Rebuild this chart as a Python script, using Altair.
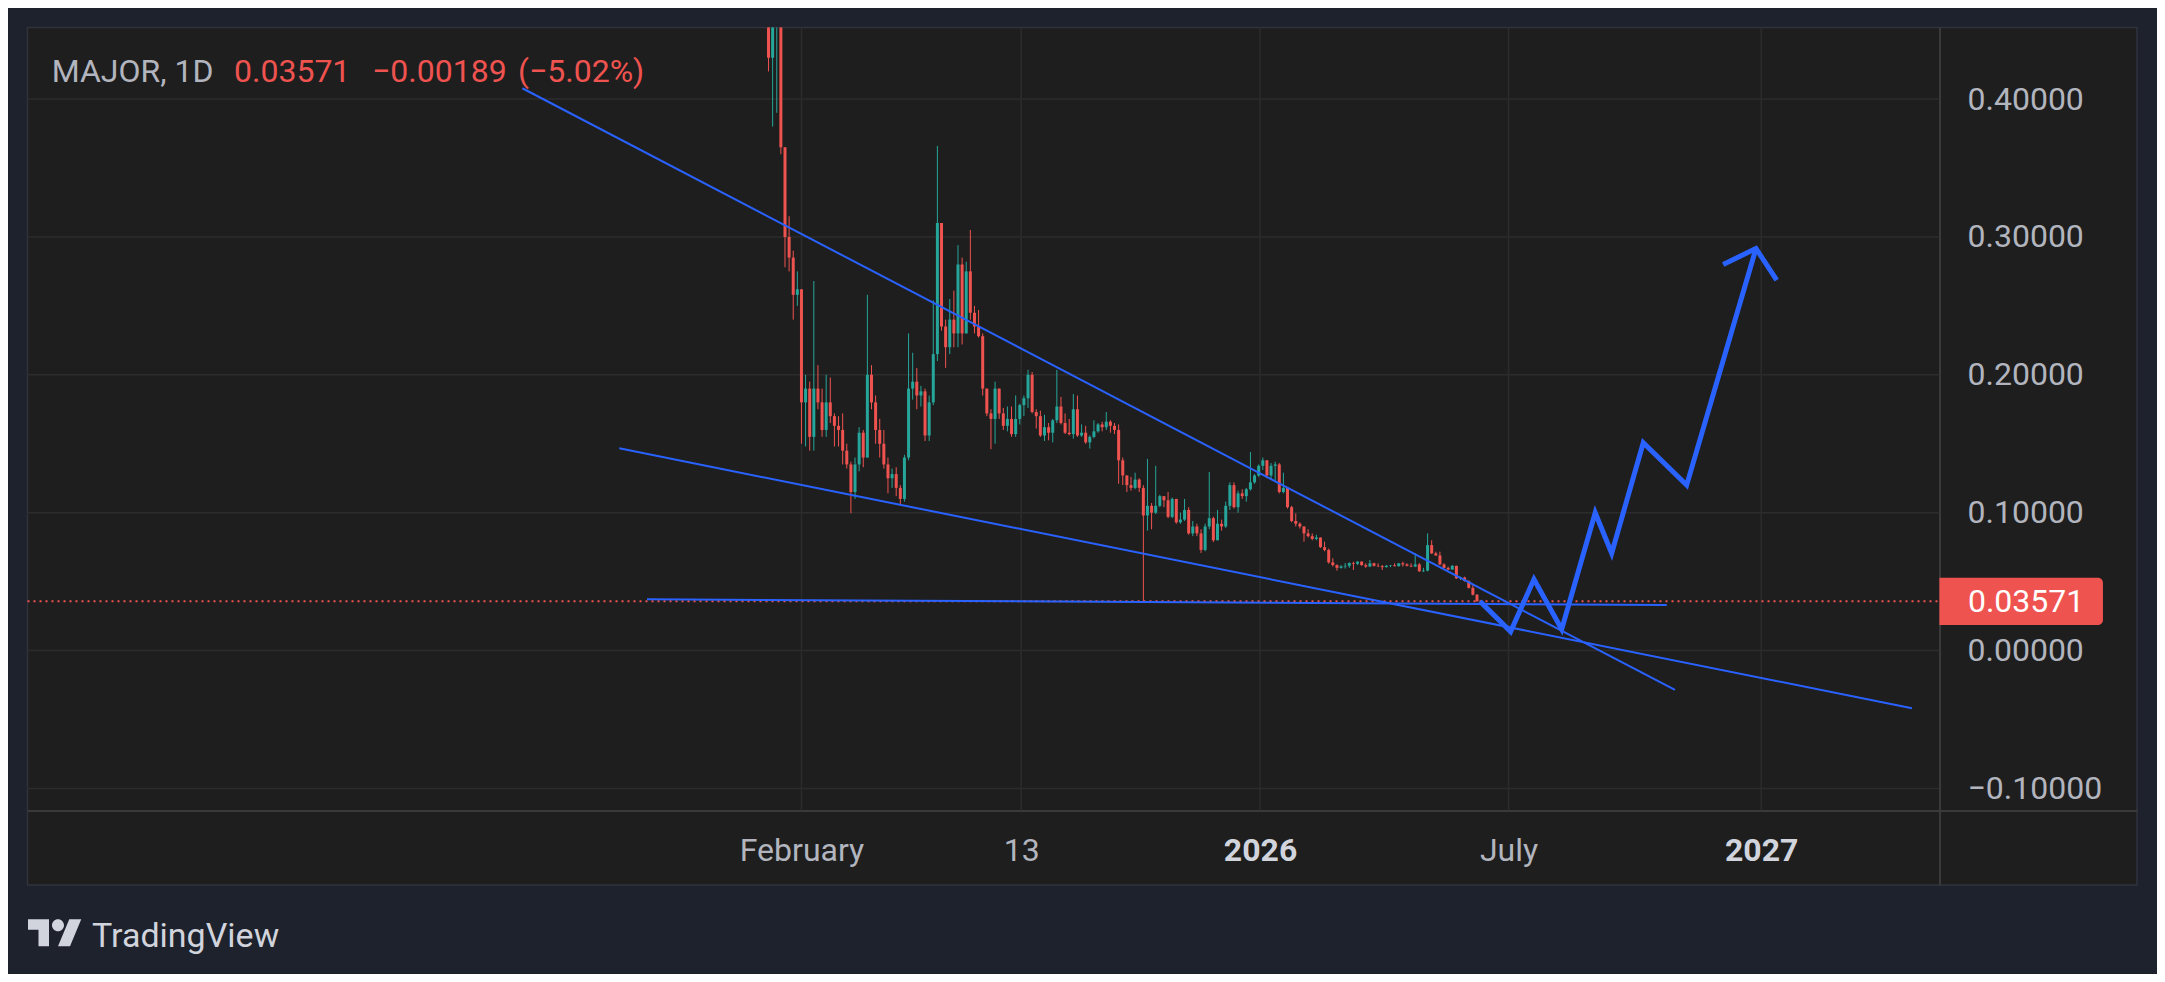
import altair as alt
import numpy as np
import pandas as pd

# ---------------- data ----------------
# day offsets from 1 Feb 2025; one candle per 3 days
CANDLE_DAY = list(range(-24, 493, 3))
FIRST_OPEN = 0.53
CLOSE = [
    0.43, 0.50, 0.52, 0.365, 0.30, 0.285, 0.258, 0.262, 0.18, 0.19,
    0.155, 0.19, 0.18, 0.16, 0.18, 0.17, 0.163, 0.16, 0.145, 0.135,
    0.115, 0.135, 0.158, 0.14, 0.20, 0.18, 0.16, 0.15, 0.135, 0.125,
    0.128, 0.118, 0.11, 0.14, 0.19, 0.195, 0.185, 0.188, 0.156, 0.18,
    0.215, 0.31, 0.235, 0.22, 0.24, 0.23, 0.28, 0.23, 0.275, 0.245,
    0.235, 0.228, 0.19, 0.172, 0.168, 0.19, 0.172, 0.163, 0.168, 0.157,
    0.168, 0.178, 0.183, 0.20, 0.173, 0.17, 0.156, 0.162, 0.158, 0.167,
    0.177, 0.165, 0.158, 0.157, 0.175, 0.156, 0.158, 0.151, 0.155, 0.159,
    0.164, 0.162, 0.166, 0.163, 0.16, 0.138, 0.127, 0.12, 0.118, 0.124,
    0.118, 0.098, 0.105, 0.10, 0.105, 0.112, 0.109, 0.097, 0.11, 0.093,
    0.095, 0.102, 0.085, 0.09, 0.085, 0.073, 0.09, 0.096, 0.08, 0.092,
    0.09, 0.105, 0.12, 0.104, 0.114, 0.112, 0.117, 0.122, 0.127, 0.134,
    0.138, 0.127, 0.134, 0.135, 0.115, 0.118, 0.104, 0.094, 0.092, 0.09,
    0.085, 0.083, 0.081, 0.082, 0.075, 0.073, 0.064, 0.062, 0.06, 0.061,
    0.0615, 0.0635, 0.063, 0.0645, 0.062, 0.061, 0.0633, 0.0615, 0.0612, 0.0605,
    0.0615, 0.0618, 0.0612, 0.0633, 0.0625, 0.0615, 0.061, 0.0625, 0.0575, 0.058,
    0.0765, 0.0705, 0.069, 0.0625, 0.06, 0.0588, 0.0615, 0.0524, 0.053, 0.0505,
    0.0455, 0.0405, 0.03571,
]
HIGH = [
    0.58, 0.56, 0.60, 0.55, 0.365, 0.315, 0.29, 0.275, 0.262, 0.20,
    0.195, 0.268, 0.207, 0.19, 0.20, 0.198, 0.172, 0.17, 0.172, 0.15,
    0.137, 0.14, 0.162, 0.16, 0.258, 0.207, 0.185, 0.168, 0.16, 0.14,
    0.132, 0.133, 0.12, 0.142, 0.23, 0.216, 0.205, 0.192, 0.19, 0.185,
    0.254, 0.366, 0.31, 0.24, 0.255, 0.261, 0.294, 0.285, 0.282, 0.305,
    0.25, 0.247, 0.23, 0.19, 0.175, 0.195, 0.19, 0.176, 0.177, 0.177,
    0.185, 0.179, 0.185, 0.2036, 0.202, 0.175, 0.174, 0.171, 0.165, 0.168,
    0.2036, 0.184, 0.172, 0.168, 0.186, 0.185, 0.164, 0.163, 0.156, 0.167,
    0.165, 0.166, 0.173, 0.167, 0.165, 0.164, 0.14, 0.127, 0.126, 0.129,
    0.125, 0.12, 0.139, 0.107, 0.134, 0.113, 0.112, 0.115, 0.111, 0.11,
    0.10, 0.11, 0.104, 0.094, 0.092, 0.088, 0.092, 0.1295, 0.097, 0.102,
    0.095, 0.108, 0.122, 0.122, 0.116, 0.117, 0.118, 0.144, 0.128, 0.135,
    0.14, 0.138, 0.136, 0.137, 0.136, 0.129, 0.118, 0.105, 0.0995, 0.093,
    0.09, 0.088, 0.085, 0.084, 0.082, 0.079, 0.074, 0.067, 0.0625, 0.062,
    0.0635, 0.064, 0.0645, 0.0648, 0.0648, 0.0633, 0.0657, 0.0637, 0.0633, 0.0621,
    0.0621, 0.0621, 0.0633, 0.0635, 0.0645, 0.0633, 0.0633, 0.0705, 0.0635, 0.06,
    0.085, 0.08, 0.0717, 0.0717, 0.0633, 0.0609, 0.0621, 0.0615, 0.0536, 0.0536,
    0.051, 0.0476, 0.041,
]
LOW = [
    0.42, 0.38, 0.39, 0.36, 0.278, 0.275, 0.24, 0.25, 0.15, 0.148,
    0.145, 0.145, 0.175, 0.155, 0.155, 0.165, 0.148, 0.148, 0.135, 0.132,
    0.0996, 0.11, 0.13, 0.133, 0.14, 0.175, 0.15, 0.14, 0.132, 0.114,
    0.118, 0.112, 0.106, 0.108, 0.138, 0.182, 0.175, 0.177, 0.152, 0.152,
    0.178, 0.21, 0.232, 0.205, 0.215, 0.22, 0.22, 0.222, 0.232, 0.24,
    0.23, 0.227, 0.185, 0.17, 0.146, 0.15, 0.168, 0.16, 0.159, 0.155,
    0.155, 0.164, 0.17, 0.176, 0.172, 0.161, 0.155, 0.152, 0.1525, 0.151,
    0.165, 0.164, 0.157, 0.156, 0.1537, 0.155, 0.155, 0.15, 0.1465, 0.154,
    0.158, 0.159, 0.16, 0.158, 0.157, 0.121, 0.12, 0.115, 0.116, 0.117,
    0.115, 0.0348, 0.087, 0.088, 0.099, 0.104, 0.104, 0.096, 0.096, 0.092,
    0.092, 0.094, 0.084, 0.083, 0.083, 0.0708, 0.072, 0.088, 0.0787, 0.08,
    0.087, 0.089, 0.102, 0.103, 0.10, 0.11, 0.108, 0.116, 0.121, 0.126,
    0.131, 0.125, 0.124, 0.123, 0.114, 0.114, 0.103, 0.093, 0.09, 0.0885,
    0.079, 0.082, 0.08, 0.08, 0.0745, 0.072, 0.063, 0.061, 0.058, 0.0595,
    0.0595, 0.06, 0.0585, 0.062, 0.0615, 0.06, 0.0605, 0.061, 0.0605, 0.0585,
    0.0603, 0.0605, 0.061, 0.061, 0.0609, 0.061, 0.0605, 0.0605, 0.0572, 0.057,
    0.0575, 0.07, 0.0687, 0.062, 0.0597, 0.0585, 0.0585, 0.052, 0.0512, 0.05,
    0.045, 0.04, 0.0355,
]

LAST_PRICE = 0.03571
SYMBOL = "MAJOR, 1D"
CHANGE_TEXT = "\u22120.00189"
CHANGE_PCT_TEXT = "(\u22125.02%)"

# drawn trend lines (end points: day, price)
LINE_ID = ["upper", "upper", "lower", "lower", "flat", "flat"]
LINE_DAY = [-203.3, 636.2, -132.7, 808.8, -112.5, 630.2]
LINE_PRICE = [0.4078, -0.0285, 0.1467, -0.0418, 0.0372, 0.0331]

# projected zig-zag path and its arrow head
PATH_DAY = [494.2, 516.5, 533.5, 553.7, 578.1, 590.1, 613.1, 644.7, 695.2]
PATH_PRICE = [0.0357, 0.0138, 0.0517, 0.0155, 0.100, 0.0706, 0.1507, 0.120, 0.2916]
ARROW_DAY = [671.3, 695.2, 710.3]
ARROW_PRICE = [0.280, 0.2916, 0.2686]

Y_TICKS = [-0.1, 0.0, 0.1, 0.2, 0.3, 0.4]
X_TICK_DAYS = [0, 160, 334, 515, 699]
X_TICK_LABELS = ["February", "13", "2026", "July", "2027"]
X_BOLD_LABELS = ["2026", "2027"]

# ---------------- layout ----------------
PANE_W, PANE_H = 2109.5, 857.5
X_MIN, X_MAX = -563.7, 972.7          # whole pane
X_PRICE_EDGE = 828.8                  # where the price scale strip starts
Y_MIN, Y_MAX = -0.16998, 0.45185
Y_PRICE_EDGE = -0.11596               # where the time scale strip starts
LABEL_BOX_END = 947.9
LABEL_BOX_HALF_PX = 23.7
AXIS_RIGHT_OFFSET = -197.5
AXIS_BOTTOM_OFFSET = -74.5

BG = "#1e222d"
PANE = "#1e1e1e"
GRID = "#2c2c2c"
SEP = "#3a3a3a"
TXT = "#b2b5be"
TXT_BRIGHT = "#d1d4dc"
RED = "#ef5350"
TEAL = "#26a69a"
BLUE = "#2962ff"
FONT = "Roboto"
FS = 32

# ---------------- frames ----------------
opens = [FIRST_OPEN] + CLOSE[:-1]
candles = pd.DataFrame({"day": CANDLE_DAY, "open": opens, "close": CLOSE,
                        "high": HIGH, "low": LOW})
candles["high"] = candles[["high", "open", "close"]].max(axis=1)
candles["low"] = candles[["low", "open", "close"]].min(axis=1)
candles["dir"] = np.where(candles["close"] >= candles["open"], "up", "down")

lines = pd.DataFrame({"id": LINE_ID, "day": LINE_DAY, "price": LINE_PRICE})
proj = pd.concat([
    pd.DataFrame({"id": "path", "day": PATH_DAY, "price": PATH_PRICE}),
    pd.DataFrame({"id": "arrow", "day": ARROW_DAY, "price": ARROW_PRICE}),
])
grid_h = pd.DataFrame({"y": Y_TICKS, "x0": X_MIN, "x1": X_PRICE_EDGE})
grid_v = pd.DataFrame({"x": X_TICK_DAYS, "y0": Y_PRICE_EDGE, "y1": Y_MAX})
px_per_unit = PANE_H / (Y_MAX - Y_MIN)
price_df = pd.DataFrame({
    "price": [LAST_PRICE], "x0": [X_MIN], "x1": [X_PRICE_EDGE], "xe": [LABEL_BOX_END],
    "b0": [LAST_PRICE - LABEL_BOX_HALF_PX / px_per_unit],
    "b1": [LAST_PRICE + LABEL_BOX_HALF_PX / px_per_unit],
    "label": [f"{LAST_PRICE:.5f}"],
})

# ---------------- scales / axes ----------------
x_scale = alt.Scale(domain=[X_MIN, X_MAX], nice=False, zero=False)
y_scale = alt.Scale(domain=[Y_MIN, Y_MAX], nice=False, zero=False)

label_expr = " : ".join(f"datum.value == {d} ? '{l}'" for d, l in zip(X_TICK_DAYS, X_TICK_LABELS)) + " : ''"
bold_days = [d for d, l in zip(X_TICK_DAYS, X_TICK_LABELS) if l in X_BOLD_LABELS]
bold_test = " || ".join(f"datum.value == {d}" for d in bold_days)

x_axis = alt.Axis(
    values=X_TICK_DAYS, labelExpr=label_expr, orient="bottom", offset=AXIS_BOTTOM_OFFSET,
    grid=False, ticks=True, tickSize=0, domain=True, domainColor=SEP, domainWidth=2,
    labelFont=FONT, labelFontSize=FS, labelPadding=49.5, labelBaseline="alphabetic",
    labelFlush=False, labelOverlap=False,
    labelColor={"condition": {"test": bold_test, "value": TXT_BRIGHT}, "value": TXT},
    labelFontWeight={"condition": {"test": bold_test, "value": "bold"}, "value": "normal"},
    title=None,
)
y_axis = alt.Axis(
    values=Y_TICKS, format=".5f", orient="right", offset=AXIS_RIGHT_OFFSET,
    grid=False, ticks=True, tickSize=0, domain=True, domainColor=SEP, domainWidth=2,
    labelFont=FONT, labelFontSize=FS, labelColor=TXT, labelAlign="left",
    labelBaseline="middle", labelPadding=27.5, labelFlush=False, labelOverlap=False,
    title=None,
)


def X(f):
    return alt.X(f, type="quantitative", scale=x_scale, axis=x_axis, title=None)


def Y(f):
    return alt.Y(f, type="quantitative", scale=y_scale, axis=y_axis, title=None)


candle_color = alt.Color("dir:N", scale=alt.Scale(domain=["up", "down"], range=[TEAL, RED]), legend=None)

l_grid_h = alt.Chart(grid_h).mark_rule(color=GRID, strokeWidth=1.5).encode(x=X("x0"), x2="x1", y=Y("y"))
l_grid_v = alt.Chart(grid_v).mark_rule(color=GRID, strokeWidth=1.5).encode(x=X("x"), y=Y("y0"), y2="y1")

l_wick = alt.Chart(candles).mark_rule(strokeWidth=1, clip=True).encode(
    x=X("day"), y=Y("low"), y2="high", color=candle_color)
l_body = alt.Chart(candles).mark_rule(strokeWidth=3, clip=True).encode(
    x=X("day"), y=Y("open"), y2="close", color=candle_color)

l_price_line = alt.Chart(price_df).mark_rule(color=RED, strokeWidth=2, strokeDash=[2, 4]).encode(
    x=X("x0"), x2="x1", y=Y("price"))

l_lines = alt.Chart(lines).mark_line(color=BLUE, strokeWidth=2).encode(
    x=X("day"), y=Y("price"), detail="id:N")
l_proj = alt.Chart(proj).mark_line(color=BLUE, strokeWidth=5, strokeJoin="miter").encode(
    x=X("day"), y=Y("price"), detail="id:N")

l_box = alt.Chart(price_df).mark_rect(color=RED, cornerRadiusTopRight=5, cornerRadiusBottomRight=5).encode(
    x=X("x1"), x2="xe", y=Y("b0"), y2="b1")
l_box_text = alt.Chart(price_df).mark_text(
    align="left", baseline="middle", dx=28.5, dy=1, font=FONT, fontSize=FS, color="#ffffff").encode(
    x=X("x1"), y=Y("price"), text="label:N")

one = pd.DataFrame({"k": [0]})


def label(txt, xpx, ypx, color, size=FS, weight="normal"):
    return alt.Chart(one).mark_text(
        text=txt, align="left", baseline="alphabetic", font=FONT, fontSize=size,
        fontWeight=weight, color=color).encode(x=alt.value(xpx), y=alt.value(ypx))


l_title = [
    label(SYMBOL, 24.2, 54.2, TXT),
    label(f"{LAST_PRICE:.5f}", 206.5, 54.2, RED),
    label(CHANGE_TEXT, 344.5, 54.2, RED),
    label(CHANGE_PCT_TEXT, 490.5, 54.2, RED),
]

TV_LOGO = ("M-0.2222,0.5 L-0.6111,0.5 L-0.6111,-0.1111 L-1,-0.1111 L-1,-0.5 L-0.2222,-0.5 Z "
           "M0.5556,0.5 L0.1111,0.5 L0.5278,-0.5 L0.9722,-0.5 Z "
           "M-0.1111,-0.2778 A0.2222,0.2222 0 1,0 0.3333,-0.2778 A0.2222,0.2222 0 1,0 -0.1111,-0.2778 Z")
l_logo = alt.Chart(one).mark_point(shape=TV_LOGO, size=2916, filled=True, color=TXT_BRIGHT,
                                   opacity=1, strokeWidth=0).encode(x=alt.value(27.5), y=alt.value(905.2))
l_logo_text = label("TradingView", 64.5, 919.2, TXT_BRIGHT, size=34)

chart = alt.layer(
    l_grid_h, l_grid_v, l_wick, l_body, l_price_line, l_lines, l_proj,
    l_box, l_box_text, *l_title, l_logo, l_logo_text,
).properties(
    width=PANE_W, height=PANE_H,
    autosize=alt.AutoSizeParams(type="none"),
    padding={"left": 19.5, "top": 19.5, "right": 20, "bottom": 89},
    background=BG,
).configure_view(
    fill=PANE, stroke="#30333c", strokeWidth=1.5,
)

chart.save("out.html", embed_options={"renderer": "svg", "actions": False})
